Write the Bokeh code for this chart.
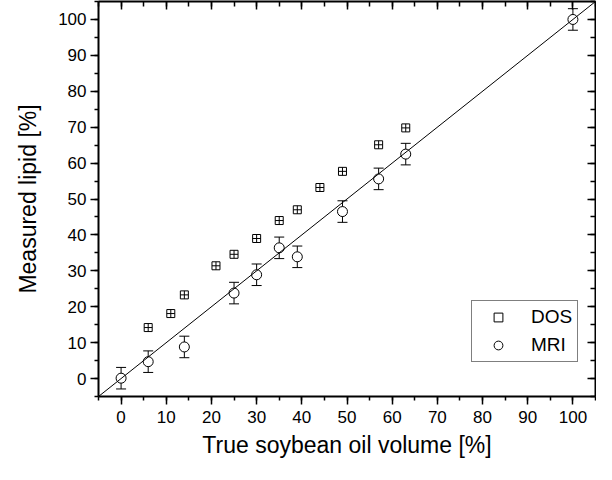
from bokeh.plotting import figure
from bokeh.models import (Range1d, SingleIntervalTicker, LinearAxis, Whisker,
                          TeeHead, ColumnDataSource)
from bokeh.embed import file_html
from bokeh.resources import INLINE

# ---- data ----
dos_x = [6, 11, 14, 21, 25, 30, 35, 39, 44, 49, 57, 63]
dos_y = [14.2, 18.1, 23.3, 31.4, 34.6, 39.0, 44.0, 47.0, 53.2, 57.7, 65.1, 69.8]

mri_x = [0, 6, 14, 25, 30, 35, 39, 49, 57, 63, 100]
mri_y = [0.1, 4.7, 8.8, 23.8, 28.9, 36.4, 33.9, 46.5, 55.6, 62.5, 100.0]
mri_err = [3, 3, 3, 3, 3, 3, 3, 3, 3, 3, 3]

ident_x = [-5, 105]
ident_y = [-5, 105]

x_title = "True soybean oil volume [%]"
y_title = "Measured lipid [%]"
FONT = "Liberation Sans"

p = figure(width=596, height=464, output_backend="svg", toolbar_location=None,
           x_range=Range1d(-5, 105), y_range=Range1d(-5, 105),
           min_border_left=98, min_border_right=1, min_border_top=1,
           min_border_bottom=68, x_axis_location=None, y_axis_location=None)
p.grid.visible = False
p.outline_line_color = None
p.background_fill_color = "white"
p.border_fill_color = "white"


def make_axis(labelled, title=None):
    ax = LinearAxis(ticker=SingleIntervalTicker(interval=10, num_minor_ticks=2))
    ax.axis_line_width = 2
    ax.axis_line_color = "black"
    ax.major_tick_line_width = 1.5
    ax.minor_tick_line_width = 1.5
    ax.major_tick_line_color = "black"
    ax.minor_tick_line_color = "black"
    if labelled:
        ax.major_tick_out = 8
        ax.major_tick_in = 0
        ax.minor_tick_out = 4
        ax.minor_tick_in = 0
        ax.major_label_text_font = FONT
        ax.major_label_text_font_size = "17px"
        ax.major_label_text_color = "black"
        ax.axis_label = title
        ax.axis_label_text_font = FONT
        ax.axis_label_text_font_size = "23px"
        ax.axis_label_text_font_style = "normal"
        ax.axis_label_text_color = "black"
    else:
        ax.major_tick_out = 0
        ax.major_tick_in = 8
        ax.minor_tick_out = 0
        ax.minor_tick_in = 5
        ax.major_label_text_font_size = "1px"
        ax.major_label_text_color = None
        ax.major_label_standoff = 0
    return ax


xb = make_axis(True, x_title)
xb.major_label_standoff = 6
xb.axis_label_standoff = 6
p.add_layout(xb, "below")

yl = make_axis(True, y_title)
yl.major_label_standoff = 4
yl.axis_label_standoff = 14
p.add_layout(yl, "left")

p.add_layout(make_axis(False), "above")
p.add_layout(make_axis(False), "right")

# ---- DOS ----
p.scatter(dos_x, dos_y, marker="square", size=8, fill_color="white",
          line_color="black", line_width=1, legend_label="DOS")
p.scatter(dos_x, dos_y, marker="cross", size=8, line_color="black",
          line_width=1)

# ---- MRI with error bars ----
src = ColumnDataSource(dict(
    x=mri_x, y=mri_y,
    lo=[v - e for v, e in zip(mri_y, mri_err)],
    hi=[v + e for v, e in zip(mri_y, mri_err)]))
w = Whisker(base="x", lower="lo", upper="hi", source=src, dimension="height",
            line_color="black", line_width=1,
            upper_head=TeeHead(size=10, line_color="black", line_width=1),
            lower_head=TeeHead(size=10, line_color="black", line_width=1))
p.add_layout(w)
p.scatter("x", "y", source=src, marker="circle", size=10, fill_color="white",
          line_color="black", line_width=1, legend_label="MRI")

# ---- identity line ----
p.line(ident_x, ident_y, line_color="black", line_width=1)

lg = p.legend[0]
lg.location = (373, 34)
lg.border_line_color = "black"
lg.border_line_width = 1
lg.background_fill_color = "white"
lg.background_fill_alpha = 1
lg.label_text_font = FONT
lg.label_text_font_size = "19px"
lg.label_text_color = "black"
lg.padding = 5
lg.spacing = 6
lg.glyph_width = 42
lg.glyph_height = 22
lg.label_standoff = 12
lg.label_height = 22
lg.margin = 0

open("out.html", "w").write(file_html(p, INLINE))
